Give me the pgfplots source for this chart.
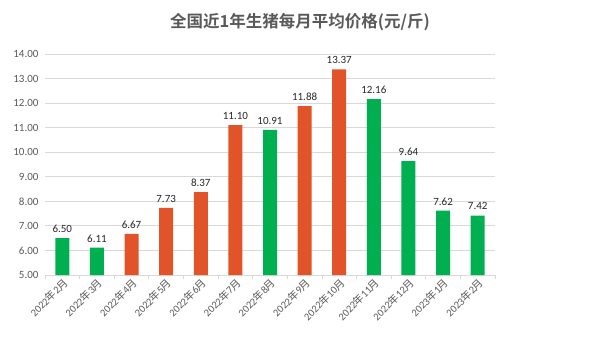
\documentclass[border=0pt]{standalone}
\usepackage{pgfplots}
\pgfplotsset{compat=1.18}
\usepackage{fontspec}
\setmainfont{Carlito}
\newfontfamily\cjk{Noto Sans CJK SC}[BoldFont={Noto Sans CJK SC Bold}]
\definecolor{grn}{HTML}{00B050}
\definecolor{org}{HTML}{E15328}
\definecolor{txt}{HTML}{595959}
\definecolor{grd}{HTML}{D9D9D9}
\newcommand{\ym}[2]{#1{\cjk 年}#2{\cjk 月}}
\begin{document}
\begin{tikzpicture}[x=1bp,y=1bp]
\useasboundingbox (0,0) rectangle (601,350);
\node[font={\cjk\bfseries\fontsize{16.5bp}{18bp}\selectfont}, text=txt] at (300,328) {全国近1年生猪每月平均价格(元/斤)};
\begin{axis}[
  at={(45bp,75bp)}, anchor=south west,
  scale only axis, width=450bp, height=221bp,
  ymin=5, ymax=14, ytick={5,6,...,14},
  xmin=-0.5, xmax=12.5,
  xtick={0,...,12},
  xticklabels={\ym{2022}{2},\ym{2022}{3},\ym{2022}{4},\ym{2022}{5},\ym{2022}{6},\ym{2022}{7},\ym{2022}{8},\ym{2022}{9},\ym{2022}{10},\ym{2022}{11},\ym{2022}{12},\ym{2023}{1},\ym{2023}{2}},
  minor xtick={-0.5,0.5,...,12.5},
  major tick length=0pt,
  minor tick length=4bp,
  tick align=outside,
  xtick pos=bottom,
  axis line style={draw=none},
  axis x line*=bottom,
  x axis line style={draw=grd, line width=0.8bp},
  every minor tick/.style={draw=grd, line width=0.8bp},
  ymajorgrids, grid style={draw=grd, line width=0.8bp},
  ytick style={draw=none},
  yticklabel style={font=\fontsize{11bp}{12bp}\selectfont, text=txt, xshift=-3bp, /pgf/number format/fixed, /pgf/number format/fixed zerofill, /pgf/number format/precision=2},
  /pgf/number format/assume math mode=true,
  xticklabel style={font=\fontsize{10.5bp}{12bp}\selectfont, text=txt, rotate=45, anchor=north east, inner sep=1.5bp},
  ybar, bar width=14bp, bar shift=0pt,
  nodes near coords,
  nodes near coords style={font=\fontsize{11bp}{12bp}\selectfont, text=black!85, /pgf/number format/fixed, /pgf/number format/fixed zerofill, /pgf/number format/precision=2, anchor=south, yshift=2bp},
  clip=false,
]
\addplot[fill=grn, draw=none] coordinates {(0,6.50) (1,6.11) (6,10.91) (9,12.16) (10,9.64) (11,7.62) (12,7.42)};
\addplot[fill=org, draw=none] coordinates {(2,6.67) (3,7.73) (4,8.37) (5,11.10) (7,11.88) (8,13.37)};
\end{axis}
\end{tikzpicture}
\end{document}
